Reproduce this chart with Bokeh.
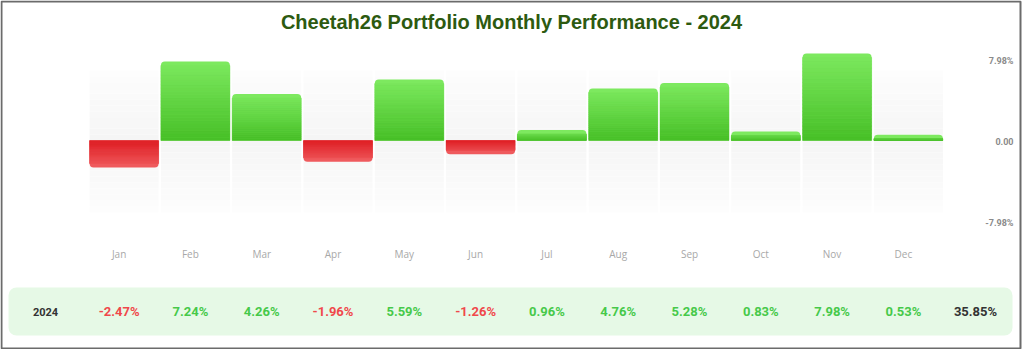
from bokeh.plotting import figure
from bokeh.models import Range1d, Label, ColumnDataSource
from bokeh.core.properties import value
from bokeh.embed import file_html
from bokeh.resources import INLINE

# ---------------- data ----------------
title_text = "Cheetah26 Portfolio Monthly Performance - 2024"
months = ["Jan", "Feb", "Mar", "Apr", "May", "Jun",
          "Jul", "Aug", "Sep", "Oct", "Nov", "Dec"]
returns = [-2.47, 7.24, 4.26, -1.96, 5.59, -1.26,
           0.96, 4.76, 5.28, 0.83, 7.98, 0.53]
year_label = "2024"
total_label = "35.85%"
tick_values = [-7.98, 0.0, 7.98]
tick_labels = ["-7.98%", "0.00", "7.98%"]

# ---------------- layout helpers ----------------
W, H = 1023, 349
PX_PER_COL = 71.3       # horizontal pitch of the month columns
COL0_PX = 123.6         # pixel centre of the first column
ZERO_PX = 140.0         # pixel row of the zero line (from top)
PX_PER_PCT = 10.9       # vertical pixels per percent


def dx(px):
    return (px - COL0_PX) / PX_PER_COL


def dy(py):
    return (ZERO_PX - py) / PX_PER_PCT


def hex2rgb(h):
    h = h.lstrip("#")
    return tuple(int(h[i:i + 2], 16) for i in (0, 2, 4))


def lerp(c1, c2, t):
    a, b = hex2rgb(c1), hex2rgb(c2)
    return "#%02x%02x%02x" % tuple(int(round(a[i] + (b[i] - a[i]) * t)) for i in range(3))


p = figure(width=W, height=H, x_range=Range1d(dx(0), dx(W)),
           y_range=Range1d(dy(H), dy(0)), output_backend="svg",
           toolbar_location=None, min_border=0,
           x_axis_location=None, y_axis_location=None,
           background_fill_color="white", border_fill_color="white")
p.grid.visible = False
p.outline_line_color = None

# tick label scale
tick_scale = (222 - 60) / (tick_values[2] - tick_values[0])
tick_zero = 141.0
p.extra_y_ranges = {"ticks": Range1d(-(H - tick_zero) / tick_scale, tick_zero / tick_scale)}

xs = list(range(len(months)))
col_w = 69 / PX_PER_COL

# ---------------- column background bands (gradient) ----------------
band_top, band_bot = dy(70), dy(212)
nb = 12
bx, bt, bb, bc = [], [], [], []
for i in xs:
    for k in range(nb):
        t = (k + 0.5) / nb
        c = lerp("#f5f5f5", "#fdfdfd", t)
        bx += [i, i]
        bb += [band_top * k / nb, band_bot * k / nb]
        bt += [band_top * (k + 1) / nb, band_bot * (k + 1) / nb]
        bc += [c, c]
p.vbar(x="x", width=col_w, top="top", bottom="bottom", fill_color="color",
       line_color=None, source=ColumnDataSource(dict(x=bx, top=bt, bottom=bb, color=bc)))

# ---------------- bars ----------------
g_base, g_tip = "#47bf27", "#7de95f"
r_base, r_tip = "#de1c22", "#ef5a5d"
r_data = 4 / PX_PER_PCT

pos = [(i, v) for i, v in zip(xs, returns) if v >= 0]
neg = [(i, v) for i, v in zip(xs, returns) if v < 0]

p.vbar(x=[i for i, _ in pos], width=col_w, top=[v for _, v in pos], bottom=0,
       fill_color=g_tip, line_color=None, border_radius=(4, 4, 0, 0))
p.vbar(x=[i for i, _ in neg], width=col_w, top=0, bottom=[v for _, v in neg],
       fill_color=r_tip, line_color=None, border_radius=(0, 0, 4, 4))

ns = 24
sx, st, sb, sc = [], [], [], []
for i, v in zip(xs, returns):
    s = 1 if v >= 0 else -1
    reach = abs(v) - r_data
    if reach <= 0:
        continue
    for k in range(ns):
        lo = abs(v) * k / ns
        hi = min(abs(v) * (k + 1) / ns, reach)
        if lo >= reach:
            break
        t = (k + 0.5) / ns
        c = lerp(g_base, g_tip, t) if s > 0 else lerp(r_base, r_tip, t)
        sx.append(i)
        sb.append(s * lo)
        st.append(s * hi)
        sc.append(c)
p.vbar(x="x", width=col_w, top="top", bottom="bottom", fill_color="color",
       line_color="color", line_width=0.5,
       source=ColumnDataSource(dict(x=sx, top=st, bottom=sb, color=sc)))

# ---------------- right tick labels ----------------
p.text(x=dx(1013), y=tick_values, text=tick_labels, y_range_name="ticks",
       text_align="right", text_baseline="middle", text_font=value("Roboto"),
       text_font_size="9px", text_font_style="bold", text_color="#8a8a8a")

# ---------------- month labels ----------------
lab_off = -5
p.text(x=xs, y=dy(253), text=months, x_offset=lab_off, text_align="center",
       text_baseline="middle", text_font=value("Open Sans"), text_font_size="10px",
       text_color="#a8a8a8")

# ---------------- performance table row ----------------
p.quad(left=dx(8), right=dx(1012), top=dy(287), bottom=dy(335),
       fill_color="#e6f9e6", line_color=None, border_radius=8)

val_text = ["%.2f%%" % v for v in returns]
val_color = ["#f0484b" if v < 0 else "#46c94a" for v in returns]
p.text(x=xs, y=dy(311), text=val_text, x_offset=lab_off, text_color=val_color,
       text_align="center", text_baseline="middle", text_font=value("Roboto"),
       text_font_size="13px", text_font_style="bold")
p.text(x=[dx(45)], y=dy(311), text=[year_label], text_color="#333333",
       text_align="center", text_baseline="middle", text_font=value("Roboto"),
       text_font_size="11px", text_font_style="bold")
p.text(x=[dx(975)], y=dy(311), text=[total_label], text_color="#333333",
       text_align="center", text_baseline="middle", text_font=value("Roboto"),
       text_font_size="13px", text_font_style="bold")

# ---------------- outer frame ----------------
p.quad(left=dx(1), right=dx(1020), top=dy(1), bottom=dy(348), fill_color=None,
       line_color="#6b6b6b", line_width=2)

# ---------------- title ----------------
p.add_layout(Label(x=511, y=H - 21, x_units="screen", y_units="screen",
                   text=title_text, text_align="center", text_baseline="middle",
                   text_font="Liberation Sans", text_font_size="20px",
                   text_font_style="bold", text_color="#2d5a10"))

open("out.html", "w").write(file_html(p, INLINE))
